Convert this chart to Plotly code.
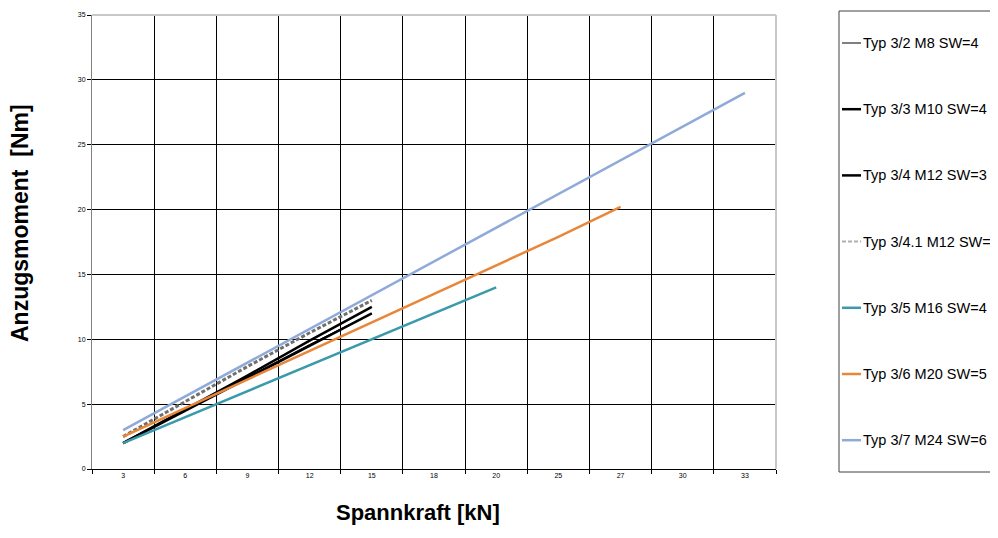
import plotly.graph_objects as go

# ---- data ----
categories = ["3", "6", "9", "12", "15", "18", "20", "25", "27", "30", "33"]

names = [
    "Typ 3/2 M8 SW=4",
    "Typ 3/3 M10 SW=4",
    "Typ 3/4 M12 SW=3",
    "Typ 3/4.1 M12 SW=4",
    "Typ 3/5 M16 SW=4",
    "Typ 3/6 M20 SW=5",
    "Typ 3/7 M24 SW=6",
]

typ_3_2 = [2.0, 4.6, 7.1, 9.6, 12.0]
typ_3_3 = [2.0, 4.6, 7.2, 9.9, 12.5]
typ_3_4 = [2.0, 4.5, 7.0, 9.5, 12.0]
typ_3_41 = [2.5, 5.2, 7.9, 10.5, 13.0]
typ_3_5 = [2.0, 4.0, 6.0, 8.0, 10.0, 12.0, 14.0]
typ_3_6 = [2.5, 4.7, 6.9, 9.1, 11.3, 13.5, 15.7, 17.9, 20.2]
typ_3_7 = [3.0, 5.6, 8.2, 10.8, 13.4, 16.0, 18.6, 21.2, 23.8, 26.4, 29.0]

series = [typ_3_2, typ_3_3, typ_3_4, typ_3_41, typ_3_5, typ_3_6, typ_3_7]

x_title = "Spannkraft [kN]"
y_title = "Anzugsmoment  [Nm]"

# ---- styles ----
colors = ["#000000", "#000000", "#000000", "#707070", "#3a9aab", "#e8863a", "#8eaad8"]
widths = [1.0, 2.5, 2.5, 3.0, 2.5, 2.5, 2.5]
dashes = ["solid", "solid", "solid", "4px,2px", "solid", "solid", "solid"]

FONT = "Liberation Sans, Arial, sans-serif"

# the page body adds an 8px offset; work in page pixels and convert
OFF = 8
FIG_W, FIG_H = 998 - OFF, 538 - OFF
L, R, T, B = 92, 776, 15, 469          # plot area in page pixels
W, H = R - L, B - T


def px_x(px):
    return (px - L) / W


def px_y(py):
    return (B - py) / H


fig = go.Figure()
for name, vals, c, w, d in zip(names, series, colors, widths, dashes):
    fig.add_trace(go.Scatter(
        x=categories[:len(vals)], y=vals, mode="lines", name=name,
        line=dict(color=c, width=w, dash=d), showlegend=False,
    ))

shapes = []
annotations = []

# plot border (top/right light gray)
shapes.append(dict(type="line", xref="paper", yref="paper", x0=0, x1=1, y0=1, y1=1,
                   line=dict(color="#c8c8c8", width=2)))
shapes.append(dict(type="line", xref="paper", yref="paper", x0=1, x1=1, y0=0, y1=1,
                   line=dict(color="#c8c8c8", width=2)))

# legend box (manual, to match the short line samples)
shapes.append(dict(type="rect", xref="paper", yref="paper",
                   x0=px_x(839), x1=px_x(1010), y0=px_y(472), y1=px_y(11),
                   line=dict(color="#404040", width=1), fillcolor="rgba(0,0,0,0)"))
leg_y0, leg_dy = 43, 66.2
for i, (name, c, w, d) in enumerate(zip(names, colors, widths, dashes)):
    yy = px_y(leg_y0 + i * leg_dy)
    shapes.append(dict(type="line", xref="paper", yref="paper",
                       x0=px_x(842), x1=px_x(861), y0=yy, y1=yy,
                       line=dict(color=c if i != 3 else "#b0b0b0",
                                 width=w if i != 3 else 2, dash=d)))
    annotations.append(dict(text=name, xref="paper", yref="paper", x=px_x(861), y=yy,
                            xanchor="left", yanchor="middle", showarrow=False,
                            font=dict(family=FONT, size=14.5, color="#000")))

# axis titles (positioned like the reference, not centred on the plot)
annotations.append(dict(text=x_title, xref="paper", yref="paper", x=px_x(418), y=px_y(512),
                        xanchor="center", yanchor="middle", showarrow=False,
                        font=dict(family=FONT, size=22, weight=700, color="#000")))
annotations.append(dict(text=y_title, xref="paper", yref="paper", x=px_x(20), y=px_y(223),
                        xanchor="center", yanchor="middle", showarrow=False, textangle=-90,
                        font=dict(family=FONT, size=23, weight=700, color="#000")))

fig.update_layout(
    width=FIG_W, height=FIG_H,
    margin=dict(l=L - OFF, r=FIG_W - (R - OFF), t=T - OFF, b=FIG_H - (B - OFF),
                autoexpand=False),
    paper_bgcolor="white", plot_bgcolor="white",
    font=dict(family=FONT, color="#000"),
    shapes=shapes, annotations=annotations,
    xaxis=dict(
        type="category", categoryorder="array", categoryarray=categories,
        range=[-0.5, len(categories) - 0.5],
        tickson="boundaries", ticks="outside", ticklen=4, tickcolor="#000",
        showgrid=True, gridcolor="#000", gridwidth=1,
        showline=True, linecolor="#000", linewidth=1,
        tickfont=dict(size=7, color="#000"),
        automargin=False,
    ),
    yaxis=dict(
        range=[0, 35], tickvals=[0, 5, 10, 15, 20, 25, 30, 35],
        ticks="outside", ticklen=4, tickcolor="#000",
        showgrid=True, gridcolor="#000", gridwidth=1, zeroline=False,
        showline=True, linecolor="#808080", linewidth=1,
        tickfont=dict(size=7, color="#000"),
        automargin=False,
    ),
)

fig.write_html("out.html")
